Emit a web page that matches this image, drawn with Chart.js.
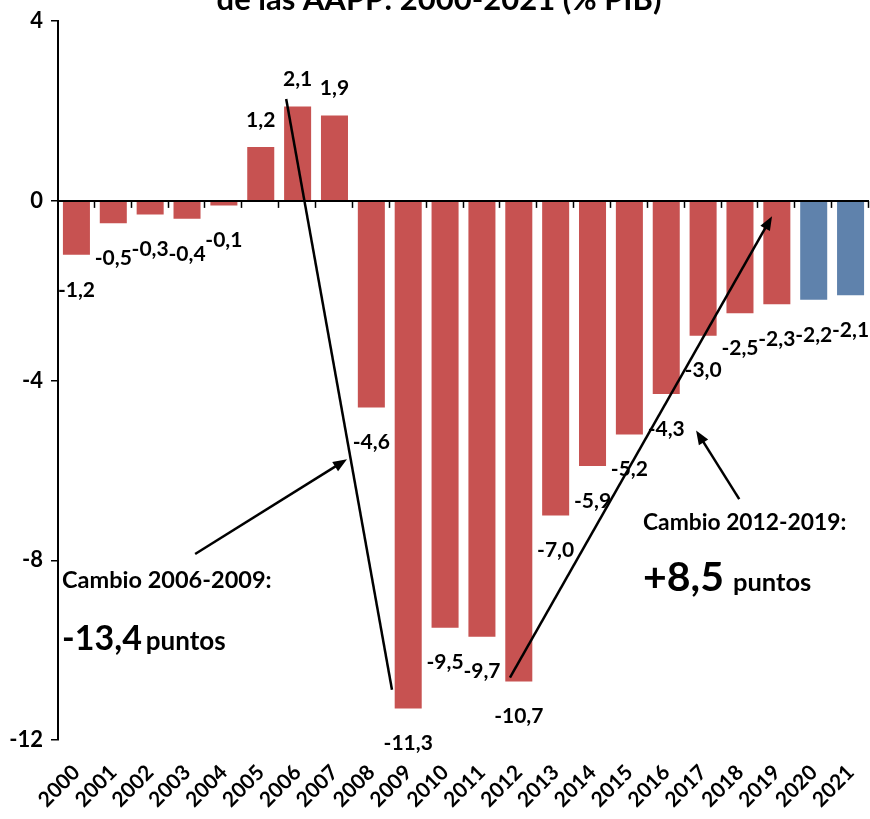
<!DOCTYPE html>
<html>
<head>
<meta charset="utf-8">
<script src="https://cdn.jsdelivr.net/npm/chart.js@4.4.1/dist/chart.umd.min.js"></script>
<style>
  html, body { margin: 0; padding: 0; background: #ffffff; }
  canvas { display: block; }
</style>
</head>
<body>
<canvas id="chart" width="870" height="819"></canvas>
<script>
// Saldo de las AAPP, % del PIB
const years = ['2000','2001','2002','2003','2004','2005','2006','2007','2008','2009','2010',
               '2011','2012','2013','2014','2015','2016','2017','2018','2019','2020','2021'];
const balance = [-1.2, -0.5, -0.3, -0.4, -0.1, 1.2, 2.1, 1.9, -4.6, -11.3, -9.5,
                 -9.7, -10.7, -7.0, -5.9, -5.2, -4.3, -3.0, -2.5, -2.3, -2.2, -2.1];
const forecastYears = ['2020', '2021'];
const yRange = { min: -12, max: 4, step: 4 };
const titleLine = 'de las AAPP: 2000-2021 (% PIB)';

// Annotation arrows, in (category index, value) coordinates
const arrows = [
  { from: [5.69, 2.27],   to: [8.56, -10.88], head: false },
  { from: [3.22, -7.86],  to: [7.34, -5.75],  head: true },
  { from: [11.76, -10.61], to: [18.87, -0.34], head: true },
  { from: [17.98, -6.64], to: [16.81, -5.11], head: true }
];
// Annotation texts, anchored at left/baseline in (category index, value) coordinates
const notes = [
  { at: [-0.39, -8.61], parts: [{ text: 'Cambio 2006-2009:', size: 23.5, gap: 0 }] },
  { at: [-0.39, -9.99], parts: [{ text: '-13,4', size: 34, gap: 0 }, { text: 'puntos', size: 26, gap: 4 }] },
  { at: [15.37, -7.33], parts: [{ text: 'Cambio 2012-2019:', size: 22.8, gap: 0 }] },
  { at: [15.37, -8.68], parts: [{ text: '+8,5', size: 41, gap: 0 }, { text: 'puntos', size: 25.5, gap: 9 }] }
];

const RED = '#C75251';
const BLUE = '#5F82AC';
const FONT = 'Lato, "Open Sans", sans-serif';

const fmt = v => v.toFixed(1).replace('.', ',');

const overlay = {
  id: 'overlay',
  afterDatasetsDraw(chart) {
    const { ctx, chartArea, scales } = chart;
    const x = scales.x, y = scales.y;
    const y0 = y.getPixelForValue(0);

    ctx.save();
    // zero line with category tick marks
    ctx.strokeStyle = '#000';
    ctx.lineWidth = 2;
    ctx.beginPath();
    ctx.moveTo(chartArea.left, y0);
    ctx.lineTo(chartArea.right, y0);
    ctx.stroke();
    ctx.lineWidth = 1.5;
    for (let k = 1; k <= years.length; k++) {
      const px = Math.round(x.getPixelForValue(k - 0.5)) - 0.5;
      ctx.beginPath();
      ctx.moveTo(px, y0);
      ctx.lineTo(px, y0 + 7);
      ctx.stroke();
    }

    // value labels
    const meta = chart.getDatasetMeta(0);
    ctx.fillStyle = '#000';
    ctx.font = 'bold 21px ' + FONT;
    ctx.textAlign = 'center';
    ctx.textBaseline = 'middle';
    meta.data.forEach((bar, i) => {
      const v = balance[i];
      const ly = v < 0 ? bar.y + 35 : bar.y - 27;
      ctx.fillText(fmt(v), bar.x, ly);
    });

    // arrows
    const P = p => [x.getPixelForValue(p[0]), y.getPixelForValue(p[1])];
    ctx.strokeStyle = '#000';
    ctx.fillStyle = '#000';
    arrows.forEach(a => {
      const [x1, y1] = P(a.from);
      const [x2, y2] = P(a.to);
      const ang = Math.atan2(y2 - y1, x2 - x1);
      const hl = a.head ? 14 : 0;
      ctx.lineWidth = 2.5;
      ctx.beginPath();
      ctx.moveTo(x1, y1);
      ctx.lineTo(x2 - Math.cos(ang) * hl * 0.8, y2 - Math.sin(ang) * hl * 0.8);
      ctx.stroke();
      if (a.head) {
        ctx.beginPath();
        ctx.moveTo(x2, y2);
        ctx.lineTo(x2 - hl * Math.cos(ang) + 5.5 * Math.sin(ang), y2 - hl * Math.sin(ang) - 5.5 * Math.cos(ang));
        ctx.lineTo(x2 - hl * Math.cos(ang) - 5.5 * Math.sin(ang), y2 - hl * Math.sin(ang) + 5.5 * Math.cos(ang));
        ctx.closePath();
        ctx.fill();
      }
    });

    // annotation texts
    ctx.textAlign = 'left';
    ctx.textBaseline = 'alphabetic';
    notes.forEach(n => {
      let [px, py] = P(n.at);
      n.parts.forEach(part => {
        px += part.gap;
        ctx.font = 'bold ' + part.size + 'px ' + FONT;
        ctx.fillText(part.text, px, py);
        px += ctx.measureText(part.text).width;
      });
    });

    // title (second line)
    ctx.font = 'bold 31px ' + FONT;
    ctx.textAlign = 'center';
    ctx.fillText(titleLine, 439, 10);
    ctx.restore();
  }
};

new Chart(document.getElementById('chart'), {
  type: 'bar',
  data: {
    labels: years,
    datasets: [{
      data: balance,
      backgroundColor: years.map(yr => forecastYears.includes(yr) ? BLUE : RED),
      borderWidth: 0,
      categoryPercentage: 1,
      barPercentage: 0.733
    }]
  },
  options: {
    responsive: false,
    animation: false,
    layout: { padding: { top: 18, right: 1, left: 0, bottom: 0 } },
    plugins: { legend: { display: false }, tooltip: { enabled: false }, title: { display: false } },
    scales: {
      x: {
        grid: { display: false },
        border: { display: false },
        ticks: {
          color: '#000',
          font: { family: FONT, size: 21, weight: 'bold' },
          minRotation: 45,
          maxRotation: 45,
          padding: 12,
          autoSkip: false
        },
        afterFit(s) { s.height = 79; s.paddingLeft = 0; s.paddingRight = 0; }
      },
      y: {
        min: yRange.min,
        max: yRange.max,
        ticks: {
          stepSize: yRange.step,
          color: '#000',
          font: { family: FONT, size: 22, weight: 'bold' },
          padding: 8,
          callback: v => String(v)
        },
        grid: { drawOnChartArea: false, drawTicks: true, tickLength: 7, color: '#000', lineWidth: 1.5 },
        border: { display: true, color: '#000', width: 2 },
        afterFit(s) { s.width = 58; }
      }
    }
  },
  plugins: [overlay]
});
</script>
</body>
</html>
